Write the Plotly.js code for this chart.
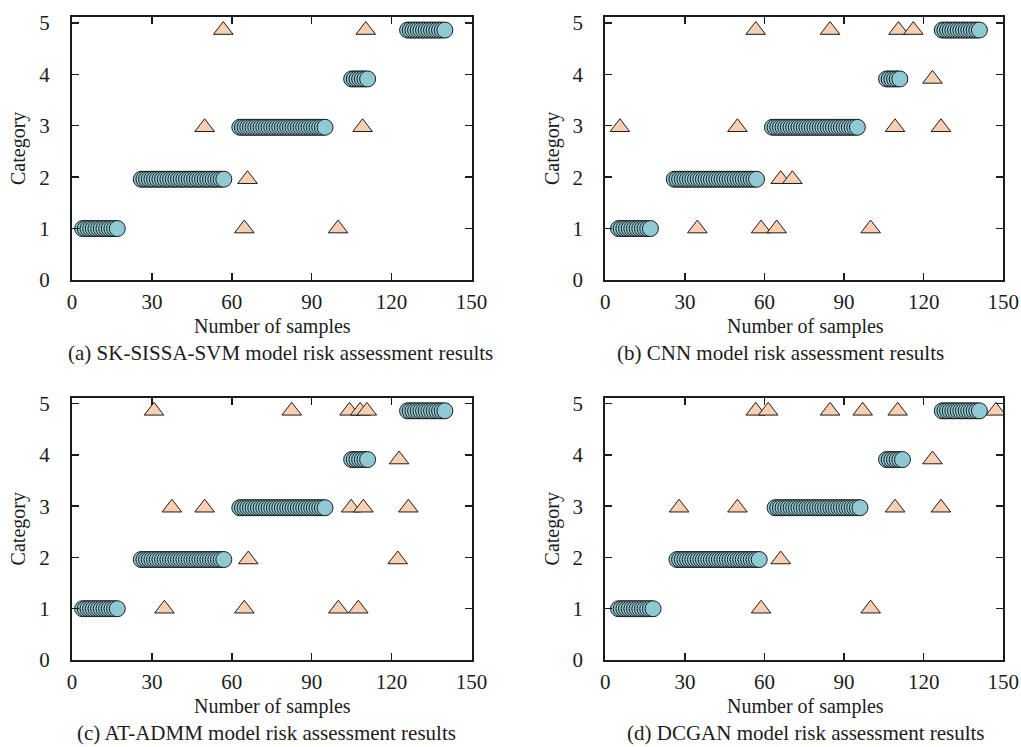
<!DOCTYPE html>
<html><head><meta charset="utf-8">
<script src="https://cdn.plot.ly/plotly-3.0.1.min.js"></script>
<style>html,body{margin:0;padding:0;background:#fff}#chart{width:1021px;height:747px}</style>
</head><body><div id="chart"></div>
<script>
// ---------- data ----------
const xTickVals = [0, 30, 60, 90, 120, 150];
const yTickVals = [0, 1, 2, 3, 4, 5];
// vertical position at which each category row (1..5) is drawn in the reference
const categoryRowY = [1.0, 1.96, 2.97, 3.91, 4.86];

const panelCaptions = [
  '(a) SK-SISSA-SVM model risk assessment results',
  '(b) CNN model risk assessment results',
  '(c) AT-ADMM model risk assessment results',
  '(d) DCGAN model risk assessment results'
];
const xTitle = 'Number of samples';
const yTitle = 'Category';

// circles: samples of each category (1..5)
const aCat1 = [4,5,6,7,8,9,10,11,12,13,14,15,16,17];
const aCat2 = [26,27,28,29,30,31,32,33,34,35,36,37,38,39,40,41,42,43,44,45,46,47,48,49,50,51,52,53,54,55,56,57];
const aCat3 = [63,64,65,66,67,68,69,70,71,72,73,74,75,76,77,78,79,80,81,82,83,84,85,86,87,88,89,90,91,92,93,94,95];
const aCat4 = [105,106,107,108,109,110,111];
const aCat5 = [126,127,128,129,130,131,132,133,134,135,136,137,138,139,140];

const bCat1 = [5,6,7,8,9,10,11,12,13,14,15,16,17];
const bCat2 = [26,27,28,29,30,31,32,33,34,35,36,37,38,39,40,41,42,43,44,45,46,47,48,49,50,51,52,53,54,55,56,57];
const bCat3 = [63,64,65,66,67,68,69,70,71,72,73,74,75,76,77,78,79,80,81,82,83,84,85,86,87,88,89,90,91,92,93,94,95];
const bCat4 = [106,107,108,109,110,111];
const bCat5 = [127,128,129,130,131,132,133,134,135,136,137,138,139,140,141];

const cCat1 = [4,5,6,7,8,9,10,11,12,13,14,15,16,17];
const cCat2 = [26,27,28,29,30,31,32,33,34,35,36,37,38,39,40,41,42,43,44,45,46,47,48,49,50,51,52,53,54,55,56,57];
const cCat3 = [63,64,65,66,67,68,69,70,71,72,73,74,75,76,77,78,79,80,81,82,83,84,85,86,87,88,89,90,91,92,93,94,95];
const cCat4 = [105,106,107,108,109,110,111];
const cCat5 = [126,127,128,129,130,131,132,133,134,135,136,137,138,139,140];

const dCat1 = [5,6,7,8,9,10,11,12,13,14,15,16,17,18];
const dCat2 = [27,28,29,30,31,32,33,34,35,36,37,38,39,40,41,42,43,44,45,46,47,48,49,50,51,52,53,54,55,56,57,58];
const dCat3 = [64,65,66,67,68,69,70,71,72,73,74,75,76,77,78,79,80,81,82,83,84,85,86,87,88,89,90,91,92,93,94,95,96];
const dCat4 = [106,107,108,109,110,111,112];
const dCat5 = [127,128,129,130,131,132,133,134,135,136,137,138,139,140,141];

// triangles: misjudged samples (sample, category)
const aTriX = [56.8, 110.3, 49.8, 109.1, 65.9, 64.7, 99.9];
const aTriCat = [5, 5, 3, 3, 2, 1, 1];
const bTriX = [56.7, 84.7, 110.5, 116.1, 123.3, 5.5, 49.8, 109.2, 126.5, 66.1, 70.5, 34.7, 58.7, 64.6, 100];
const bTriCat = [5, 5, 5, 5, 4, 3, 3, 3, 3, 2, 2, 1, 1, 1, 1];
const cTriX = [30.8, 82.5, 104.2, 108.2, 110.7, 122.8, 37.5, 49.8, 104.8, 109.4, 126.3, 66.2, 122.3, 34.7, 64.7, 100, 107.5];
const cTriCat = [5, 5, 5, 5, 5, 4, 3, 3, 3, 3, 3, 2, 2, 1, 1, 1, 1];
const dTriX = [56.7, 61.4, 84.7, 97, 110.2, 147.2, 123.3, 27.8, 49.8, 109.2, 126.5, 66.1, 58.7, 100];
const dTriCat = [5, 5, 5, 5, 5, 5, 4, 3, 3, 3, 3, 2, 1, 1];

// ---------- build ----------
const FONT = 'Liberation Serif, Times New Roman, serif';
const INK = '#1c1c1c';
const CIRCLE_FILL = '#8fc9d3';
const TRI_FILL = '#f8cfb0';

const panels = [
  {cats: [aCat1, aCat2, aCat3, aCat4, aCat5], triX: aTriX, triCat: aTriCat},
  {cats: [bCat1, bCat2, bCat3, bCat4, bCat5], triX: bTriX, triCat: bTriCat},
  {cats: [cCat1, cCat2, cCat3, cCat4, cCat5], triX: cTriX, triCat: cTriCat},
  {cats: [dCat1, dCat2, dCat3, dCat4, dCat5], triX: dTriX, triCat: dTriCat}
];

const W = 1021, H = 747;
const xDomLeft = [72 / W, 471.5 / W];
const xDomRight = [605.3 / W, 1003.3 / W];
const yDomTop = [1 - 280 / H, 1 - 16.7 / H];
const yDomBot = [1 - 660 / H, 1 - 397.5 / H];
const domains = [
  [xDomLeft, yDomTop], [xDomRight, yDomTop],
  [xDomLeft, yDomBot], [xDomRight, yDomBot]
];

const traces = [];
const layout = {
  width: W, height: H,
  margin: {l: 0, r: 0, t: 0, b: 0},
  paper_bgcolor: '#ffffff', plot_bgcolor: '#ffffff',
  showlegend: false,
  font: {family: FONT, color: INK, size: 20},
  annotations: []
};

panels.forEach((p, i) => {
  const n = i === 0 ? '' : String(i + 1);
  const xa = 'x' + n, ya = 'y' + n;
  // triangles
  traces.push({
    type: 'scatter', mode: 'markers', xaxis: xa, yaxis: ya,
    x: p.triX, y: p.triCat.map(c => categoryRowY[c - 1]),
    marker: {symbol: 'triangle-up', size: 17, color: TRI_FILL, line: {color: INK, width: 1}},
    hoverinfo: 'skip'
  });
  // circles
  const cx = [], cy = [];
  p.cats.forEach((arr, k) => arr.forEach(v => { cx.push(v); cy.push(categoryRowY[k]); }));
  traces.push({
    type: 'scatter', mode: 'markers', xaxis: xa, yaxis: ya,
    x: cx, y: cy,
    marker: {symbol: 'circle', size: 16, color: CIRCLE_FILL, line: {color: INK, width: 1}},
    hoverinfo: 'skip'
  });
  const common = {
    ticks: 'inside', ticklen: 7, tickwidth: 1.5, tickcolor: INK,
    showline: true, linewidth: 2, linecolor: INK, mirror: 'ticks',
    showgrid: false, zeroline: false, fixedrange: true,
    tickfont: {family: FONT, size: 21, color: INK}
  };
  layout['xaxis' + n] = Object.assign({}, common, {
    domain: domains[i][0], anchor: ya, range: [0, 150],
    tickmode: 'array', tickvals: xTickVals, ticklabelstandoff: 2
  });
  layout['yaxis' + n] = Object.assign({}, common, {
    domain: domains[i][1], anchor: xa, range: [0, 5.12],
    tickmode: 'array', tickvals: yTickVals, ticklabelstandoff: 16,
    title: {text: yTitle, font: {family: FONT, size: 20, color: INK}, standoff: 8}
  });
});

// x-axis titles (centre px)
const xTitlePos = [[272, 326], [805, 326], [272, 706], [805, 706]];
xTitlePos.forEach(pos => {
  layout.annotations.push({
    text: xTitle, xref: 'paper', yref: 'paper',
    x: pos[0] / W, y: 1 - pos[1] / H,
    xanchor: 'center', yanchor: 'middle', showarrow: false,
    font: {family: FONT, size: 20, color: INK}
  });
});

// caption centres (px); bottom-row captions are anchored to the page bottom
const captionPos = [[280, 353.3], [780.8, 353.3], [266.7, 746.5], [805.8, 746.5]];
panelCaptions.forEach((t, i) => {
  const bottomRow = i >= 2;
  layout.annotations.push({
    text: t, xref: 'paper', yref: 'paper',
    x: captionPos[i][0] / W, y: 1 - captionPos[i][1] / H,
    xanchor: 'center', yanchor: bottomRow ? 'bottom' : 'middle', showarrow: false,
    font: {family: FONT, size: 21, color: INK}
  });
});

Plotly.newPlot('chart', traces, layout, {staticPlot: true, displayModeBar: false});
</script></body></html>
